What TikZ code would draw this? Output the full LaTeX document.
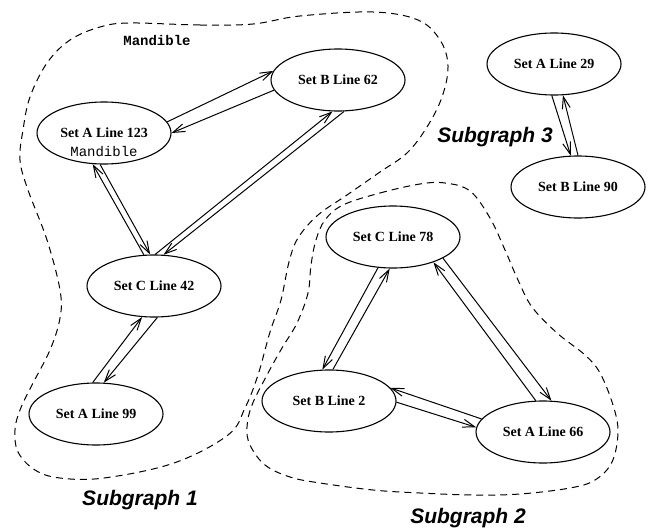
\documentclass[tikz,border=0pt]{standalone}
\usepackage{fontspec}
\setmainfont{Liberation Serif}
\newfontfamily\sglabelfont{Liberation Sans}
\newfontfamily\codefont{Liberation Mono}
\usetikzlibrary{shapes.geometric,arrows.meta}
\begin{document}
\begin{tikzpicture}[x=1pt,y=-1pt,
  state/.style={ellipse, draw, line width=1.1pt, minimum width=134pt, minimum height=62pt, inner sep=0pt,
    font=\bfseries\fontsize{14}{16}\selectfont},
  edge/.style={-{Straight Barb[length=12pt,width=8pt]}, line width=1pt},
  cluster/.style={dash pattern=on 7pt off 5pt, line width=1pt},
  sglabel/.style={anchor=base, font=\sglabelfont\bfseries\itshape\fontsize{21}{24}\selectfont},
  codetext/.style={font=\codefont\fontsize{14}{16}\selectfont}]
\useasboundingbox (0,0) rectangle (650,527);

% clusters
\draw[cluster] plot[smooth cycle, tension=0.6] coordinates {
  (130,23) (200,25) (253,24) (300,16) (373,12) (418,20) (440,40) (448,66) (442,97)
  (427,127) (407,153) (380,172) (347,195) (318,215) (298,238) (289,262) (281,300)
  (270,332) (258,375) (245,408) (228,435) (174,463) (104,478) (60,478) (35,470)
  (18,452) (15,430) (20,410) (32,385) (50,350) (60,318) (60,290) (47,240) (28,190)
  (20,160) (23,130) (30,97) (47,63) (70,40) (100,27)};
\draw[cluster] plot[smooth cycle, tension=0.6] coordinates {
  (343,205) (380,193) (420,184) (445,183) (470,191) (490,218) (505,250) (518,280)
  (532,307) (557,333) (585,355) (600,373) (613,405) (618,432) (612,462) (595,480)
  (570,488) (520,494) (473,495) (420,493) (373,490) (320,483) (290,477) (265,465)
  (250,445) (247,427) (252,405) (267,375) (282,348) (297,323) (308,293) (311,265)
  (316,240) (325,220)};

\node[codetext, font=\codefont\bfseries\fontsize{14}{16}\selectfont] (mlabel) at (157,40) {Mandible};
\node[sglabel] (sg1) at (140,505) {Subgraph 1};
\node[sglabel] (sg2) at (468,523) {Subgraph 2};
\node[sglabel] (sg3) at (495,142) {Subgraph 3};

% nodes
\node[state] (A123) at (104,133) {Set A Line 123};
\node[codetext] (A123m) at (104,152) {Mandible};
\node[state] (B62) at (338,80) {Set B Line 62};
\node[state] (C42) at (154,286) {Set C Line 42};
\node[state] (A99) at (96,414) {Set A Line 99};
\node[state] (A29) at (554,64) {Set A Line 29};
\node[state] (B90) at (578,187) {Set B Line 90};
\node[state] (C78) at (393,237) {Set C Line 78};
\node[state] (B2) at (329,401) {Set B Line 2};
\node[state] (A66) at (543,432) {Set A Line 66};

% edges
\draw[edge] (A123.10) -- (B62.172);
\draw[edge] (B62.189) -- (A123.0);
\draw[edge] (C42.108) -- (A123.250);
\draw[edge] (A123.263) -- (C42.97);
\draw[edge] (C42.88) -- (B62.260);
\draw[edge] (B62.281) -- (C42.73);
\draw[edge] (A99.96) -- (C42.249);
\draw[edge] (C42.276) -- (A99.76);
\draw[edge] (A29.266) -- (B90.103);
\draw[edge] (B90.90) -- (A29.286);
\draw[edge] (C78.244) -- (B2.102);
\draw[edge] (B2.83) -- (C78.264);
\draw[edge] (A66.103) -- (C78.328);
\draw[edge] (C78.337) -- (A66.75);
\draw[edge] (A66.168) -- (B2.12);
\draw[edge] (B2.359) -- (A66.176);
\end{tikzpicture}
\end{document}
